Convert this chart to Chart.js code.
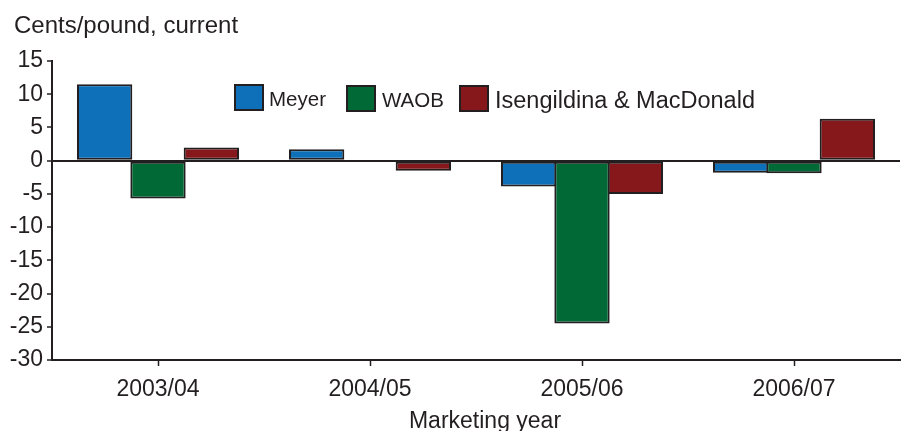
<!DOCTYPE html>
<html>
<head>
<meta charset="utf-8">
<script src="https://cdn.jsdelivr.net/npm/chart.js@4.4.1/dist/chart.umd.min.js"></script>
<style>
  html, body { margin: 0; padding: 0; background: #ffffff; }
  #wrap { width: 901px; height: 431px; position: relative; }
</style>
</head>
<body>
<div id="wrap"><canvas id="chart" width="901" height="431"></canvas></div>
<script>
// Data
const categories = ['2003/04', '2004/05', '2005/06', '2006/07'];
const seriesNames = ['Meyer', 'WAOB', 'Isengildina & MacDonald'];
const meyerValues = [11.5, 1.7, -3.9, -1.8];
const waobValues = [-5.7, 0, -24.5, -1.9];
const isenValues = [2.0, -1.5, -5.0, 6.3];
const yTicks = [15, 10, 5, 0, -5, -10, -15, -20, -25, -30];

const yTitle = 'Cents/pound, current';
const xTitle = 'Marketing year';

const ink = '#231f20';
const colors = ['#0f70ba', '#006935', '#86171a'];
const font = "'Liberation Sans', Arial, Helvetica, sans-serif";

// Titles and legend drawn straight on the canvas
const textPlugin = {
    id: 'textPlugin',
    afterDraw(chart) {
        const ctx = chart.ctx;
        ctx.save();
        ctx.fillStyle = ink;
        ctx.textBaseline = 'alphabetic';
        ctx.textAlign = 'left';
        ctx.font = '24px ' + font;
        ctx.fillText(yTitle, 14, 33);

        ctx.textAlign = 'center';
        ctx.font = '23px ' + font;
        ctx.fillText(xTitle, 485, 428);

        // legend
        const boxes = [
            { x: 235, y: 85, size: 20.5, textX: 269, base: 106 },
            { x: 347, y: 86, size: 20.5, textX: 382, base: 107 },
            { x: 460, y: 86, size: 23.5, textX: 495, base: 108 }
        ];
        chart.data.datasets.forEach((ds, i) => {
            const b = boxes[i];
            ctx.fillStyle = ds.backgroundColor;
            ctx.fillRect(b.x, b.y, 28, 25);
            ctx.strokeStyle = ink;
            ctx.lineWidth = 2;
            ctx.strokeRect(b.x, b.y, 28, 25);
            ctx.fillStyle = ink;
            ctx.textAlign = 'left';
            ctx.font = b.size + 'px ' + font;
            ctx.fillText(ds.label, b.textX, b.base);
        });
        ctx.restore();
    }
};

// bars overlap by one border width so neighbours share a single edge line
const datasets = [meyerValues, waobValues, isenValues].map((vals, i) => ({
    label: seriesNames[i],
    data: vals,
    backgroundColor: colors[i],
    borderColor: ink,
    borderWidth: 2,
    borderSkipped: false,
    inflateAmount: 0,
    barPercentage: 1.037,
    categoryPercentage: 0.755
}));

new Chart(document.getElementById('chart'), {
    type: 'bar',
    data: { labels: categories, datasets: datasets },
    options: {
        responsive: false,
        animation: false,
        events: [],
        layout: { padding: { top: 61, right: 1, left: 0, bottom: 0 } },
        plugins: {
            legend: { display: false },
            tooltip: { enabled: false },
            title: { display: false }
        },
        scales: {
            x: {
                offset: true,
                grid: {
                    offset: false,
                    drawOnChartArea: false,
                    tickColor: ink,
                    tickLength: 6,
                    tickWidth: 1.5
                },
                border: { display: true, color: ink, width: 2 },
                ticks: {
                    color: ink,
                    padding: 10,
                    font: { family: font, size: 23 },
                    maxRotation: 0
                },
                afterFit(scale) { scale.height = 71; }
            },
            y: {
                min: -30,
                max: 15,
                afterBuildTicks(scale) {
                    scale.ticks = yTicks.map(v => ({ value: v }));
                },
                grid: {
                    color: c => (c.tick && c.tick.value === 0) ? ink : 'rgba(0,0,0,0)',
                    lineWidth: 2,
                    tickColor: ink,
                    tickLength: 5,
                    tickWidth: 1.5
                },
                border: { display: true, color: ink, width: 2 },
                ticks: {
                    color: ink,
                    padding: 4,
                    font: { family: font, size: 23 }
                },
                afterFit(scale) { scale.width = 52; }
            }
        }
    },
    plugins: [textPlugin]
});
</script>
</body>
</html>
